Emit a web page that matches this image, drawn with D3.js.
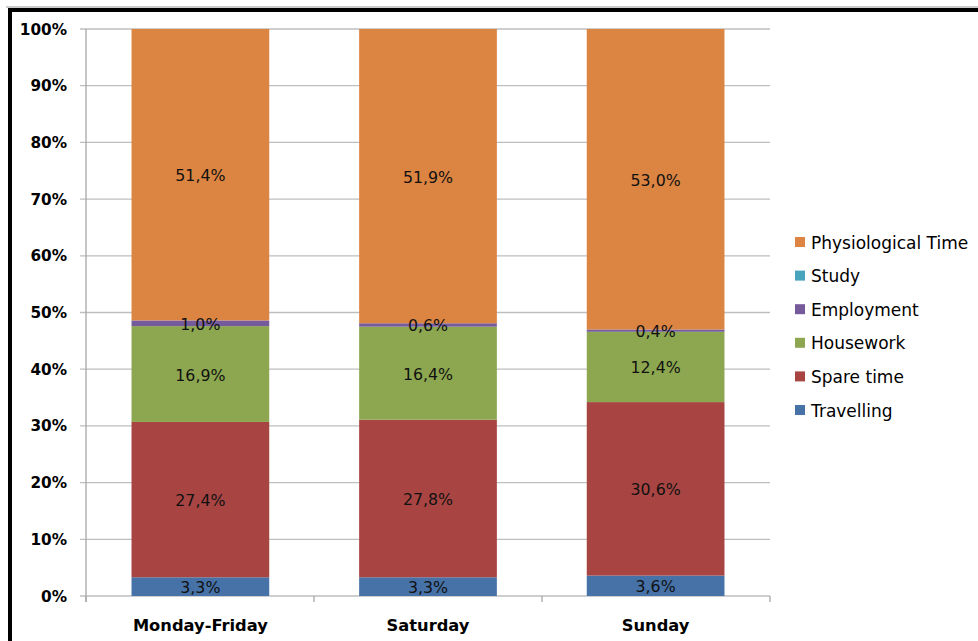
<!DOCTYPE html>
<html>
<head>
<meta charset="utf-8">
<script src="https://cdn.jsdelivr.net/npm/d3@7/dist/d3.min.js"></script>
<style>
  html, body { margin: 0; padding: 0; background: #fff; }
  svg { display: block; }
</style>
</head>
<body>
<svg id="chart" width="978" height="641"></svg>
<script>
// ---- data ----
const categories = ["Monday-Friday", "Saturday", "Sunday"];
const seriesNames = ["Travelling", "Spare time", "Housework", "Employment", "Study", "Physiological Time"];
const travelling    = [3.3, 3.3, 3.6];
const spareTime     = [27.4, 27.8, 30.6];
const housework     = [16.9, 16.4, 12.4];
const employment    = [1.0, 0.6, 0.4];
const study         = [0.0, 0.0, 0.0];
const physiological = [51.4, 51.9, 53.0];
const yTicks = [0, 10, 20, 30, 40, 50, 60, 70, 80, 90, 100];
const colors = ["#4672A8", "#A84543", "#8CA74F", "#765B9C", "#4AA3BC", "#DC8442"];

(function () {
const seriesValues = [travelling, spareTime, housework, employment, study, physiological];

const rows = categories.map((c, i) => {
  const r = { cat: c };
  seriesNames.forEach((s, j) => r[s] = seriesValues[j][i]);
  return r;
});

const svg = d3.select("#chart");

// frame
svg.append("rect").attr("x", 0).attr("y", 0).attr("width", 978).attr("height", 641).attr("fill", "#fff");
svg.append("line").attr("x1", 6).attr("x2", 978).attr("y1", 7).attr("y2", 7).attr("stroke", "#999").attr("stroke-width", 1);
svg.append("rect").attr("x", 8).attr("y", 8).attr("width", 970).attr("height", 4).attr("fill", "#000");
svg.append("rect").attr("x", 8).attr("y", 8).attr("width", 4).attr("height", 633).attr("fill", "#000");

const pLeft = 86, pRight = 770, pTop = 29, pBottom = 596;

const x = d3.scaleBand().domain(categories).range([pLeft, pRight]).paddingInner(0.395).paddingOuter(0.2);
const y = d3.scaleLinear().domain([0, 100]).range([pBottom, pTop]);

// gridlines
svg.append("g").selectAll("line").data(yTicks).join("line")
  .attr("x1", pLeft - 6).attr("x2", pRight)
  .attr("y1", d => y(d)).attr("y2", d => y(d))
  .attr("stroke", "#BEBEBE").attr("stroke-width", 1.3);

// y axis line
svg.append("line").attr("x1", pLeft).attr("x2", pLeft).attr("y1", pTop).attr("y2", pBottom + 6)
  .attr("stroke", "#A6A6A6").attr("stroke-width", 1.3);
// category ticks
const catTicks = [0, 1, 2, 3].map(k => pLeft + k * (pRight - pLeft) / 3);
svg.append("g").selectAll("line").data(catTicks).join("line")
  .attr("x1", d => d).attr("x2", d => d).attr("y1", pBottom).attr("y2", pBottom + 6)
  .attr("stroke", "#A6A6A6").attr("stroke-width", 1.3);

// y tick labels
svg.append("g").selectAll("text").data(yTicks).join("text")
  .attr("x", 67).attr("y", d => y(d) + 5.5)
  .attr("text-anchor", "end")
  .attr("font-family", "DejaVu Sans, sans-serif").attr("font-weight", "bold").attr("font-size", 15.3)
  .attr("fill", "#000")
  .text(d => d + "%");

// stacked bars
const stacked = d3.stack().keys(seriesNames)(rows);

const bars = svg.append("g");
stacked.forEach((layer, j) => {
  bars.append("g").attr("fill", colors[j])
    .selectAll("rect").data(layer).join("rect")
    .attr("x", d => x(d.data.cat))
    .attr("width", x.bandwidth())
    .attr("y", d => y(d[1]))
    .attr("height", d => Math.max(0, y(d[0]) - y(d[1])));
});

// value labels
const fmt = v => v.toFixed(1).replace(".", ",") + "%";
const labels = svg.append("g");
stacked.forEach((layer, j) => {
  labels.append("g").selectAll("text").data(layer.filter(d => d[1] - d[0] > 0)).join("text")
    .attr("x", d => x(d.data.cat) + x.bandwidth() / 2)
    .attr("y", d => y((d[0] + d[1]) / 2) + 6.5)
    .attr("text-anchor", "middle")
    .attr("font-family", "DejaVu Sans, sans-serif").attr("font-size", 15.8)
    .attr("fill", "#111")
    .text(d => fmt(d[1] - d[0]));
});

// x labels
svg.append("g").selectAll("text").data(categories).join("text")
  .attr("x", d => x(d) + x.bandwidth() / 2)
  .attr("y", 631)
  .attr("text-anchor", "middle")
  .attr("font-family", "DejaVu Sans, sans-serif").attr("font-weight", "bold").attr("font-size", 16.3)
  .attr("fill", "#000")
  .text(d => d);

// legend (reverse order)
const legendOrder = seriesNames.map((s, j) => ({ name: s, color: colors[j] })).reverse();
const lg = svg.append("g").selectAll("g").data(legendOrder).join("g")
  .attr("transform", (d, i) => `translate(795, ${242 + i * 33.6})`);
lg.append("rect").attr("x", 0).attr("y", -5).attr("width", 10).attr("height", 10).attr("fill", d => d.color);
lg.append("text").attr("x", 16).attr("y", 6.5)
  .attr("font-family", "DejaVu Sans, sans-serif").attr("font-size", 17).attr("fill", "#000")
  .text(d => d.name);
})();
</script>
</body>
</html>
